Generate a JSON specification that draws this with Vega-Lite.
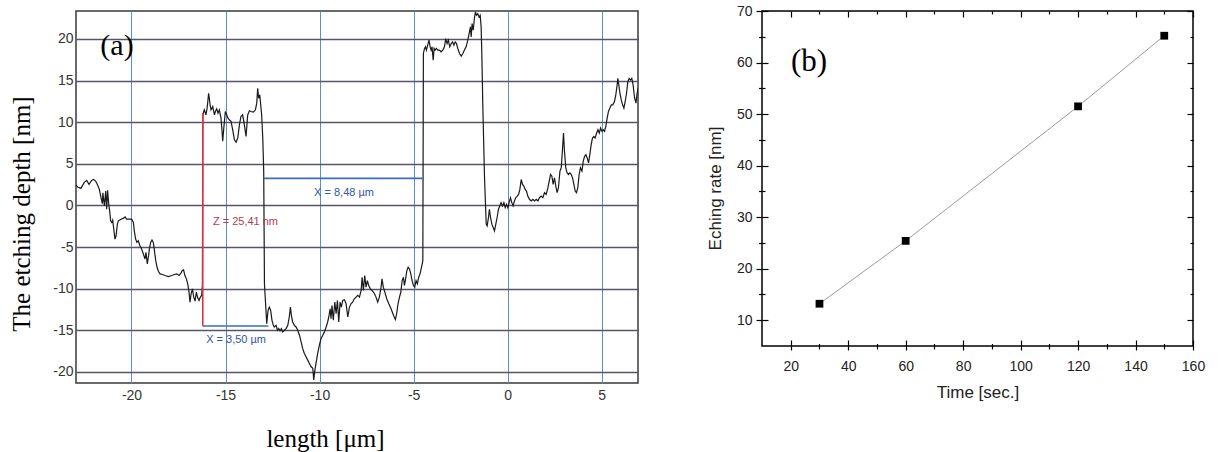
{
  "$schema": "https://vega.github.io/schema/vega-lite/v6.json",
  "background": "white",
  "padding": {"left": 8, "top": 3, "right": 5, "bottom": 2},
  "config": {
    "font": "Liberation Sans",
    "axis": {"labelFont": "Liberation Sans", "labelFlush": false, "labelOverlap": false}
  },
  "datasets": {
    "profile": [
      {"length": -22.95, "depth": 2.45}, {"length": -22.86, "depth": 2.21}, {"length": -22.69, "depth": 2.05},
      {"length": -22.51, "depth": 2.77}, {"length": -22.38, "depth": 3.01}, {"length": -22.26, "depth": 2.53},
      {"length": -22.12, "depth": 3.01}, {"length": -22.01, "depth": 3.13}, {"length": -21.91, "depth": 2.93},
      {"length": -21.80, "depth": 2.45}, {"length": -21.71, "depth": 1.93}, {"length": -21.62, "depth": 0.94},
      {"length": -21.55, "depth": 0.22}, {"length": -21.52, "depth": 1.53}, {"length": -21.44, "depth": -0.06},
      {"length": -21.37, "depth": 1.73}, {"length": -21.32, "depth": -0.46}, {"length": -21.27, "depth": 1.81},
      {"length": -21.21, "depth": 0.14}, {"length": -21.16, "depth": -0.66}, {"length": -21.11, "depth": -1.85},
      {"length": -21.05, "depth": -2.05}, {"length": -21.00, "depth": -1.77}, {"length": -20.93, "depth": -3.05},
      {"length": -20.88, "depth": -4.04}, {"length": -20.82, "depth": -3.64}, {"length": -20.75, "depth": -2.25},
      {"length": -20.70, "depth": -1.85}, {"length": -20.56, "depth": -1.65}, {"length": -20.42, "depth": -1.53},
      {"length": -20.34, "depth": -1.37}, {"length": -20.26, "depth": -1.65}, {"length": -20.13, "depth": -1.65},
      {"length": -19.99, "depth": -1.65}, {"length": -19.90, "depth": -2.05}, {"length": -19.85, "depth": -3.05},
      {"length": -19.78, "depth": -4.04}, {"length": -19.71, "depth": -4.44}, {"length": -19.64, "depth": -4.24},
      {"length": -19.55, "depth": -4.84}, {"length": -19.46, "depth": -5.24}, {"length": -19.37, "depth": -5.83},
      {"length": -19.28, "depth": -6.43}, {"length": -19.23, "depth": -5.63}, {"length": -19.16, "depth": -7.03},
      {"length": -19.09, "depth": -6.03}, {"length": -19.05, "depth": -5.24}, {"length": -18.98, "depth": -4.44},
      {"length": -18.91, "depth": -4.16}, {"length": -18.84, "depth": -4.44}, {"length": -18.79, "depth": -5.24},
      {"length": -18.71, "depth": -6.63}, {"length": -18.64, "depth": -7.43}, {"length": -18.57, "depth": -7.90},
      {"length": -18.48, "depth": -8.22}, {"length": -18.36, "depth": -8.30}, {"length": -18.22, "depth": -8.42},
      {"length": -18.04, "depth": -8.54}, {"length": -17.86, "depth": -8.42}, {"length": -17.72, "depth": -8.30},
      {"length": -17.60, "depth": -8.22}, {"length": -17.47, "depth": -8.42}, {"length": -17.37, "depth": -8.14},
      {"length": -17.30, "depth": -7.82}, {"length": -17.23, "depth": -7.74}, {"length": -17.16, "depth": -8.42},
      {"length": -17.08, "depth": -8.82}, {"length": -17.01, "depth": -9.42}, {"length": -16.94, "depth": -10.41},
      {"length": -16.89, "depth": -11.61}, {"length": -16.83, "depth": -10.61}, {"length": -16.76, "depth": -10.02},
      {"length": -16.69, "depth": -11.01}, {"length": -16.62, "depth": -11.49}, {"length": -16.55, "depth": -10.41},
      {"length": -16.48, "depth": -11.09}, {"length": -16.41, "depth": -11.41}, {"length": -16.34, "depth": -11.01},
      {"length": -16.27, "depth": -10.81}, {"length": -16.23, "depth": -9.60},
      {"length": -16.21, "depth": 10.69}, {"length": -16.18, "depth": 11.09}, {"length": -16.13, "depth": 11.49},
      {"length": -16.04, "depth": 10.89}, {"length": -15.98, "depth": 11.69}, {"length": -15.95, "depth": 12.29},
      {"length": -15.90, "depth": 13.48}, {"length": -15.86, "depth": 12.88}, {"length": -15.82, "depth": 12.09},
      {"length": -15.77, "depth": 11.49}, {"length": -15.68, "depth": 11.89}, {"length": -15.59, "depth": 10.89},
      {"length": -15.54, "depth": 11.29}, {"length": -15.47, "depth": 11.61}, {"length": -15.40, "depth": 11.09},
      {"length": -15.33, "depth": 11.49}, {"length": -15.24, "depth": 10.49}, {"length": -15.19, "depth": 9.10},
      {"length": -15.15, "depth": 7.71}, {"length": -15.10, "depth": 9.10}, {"length": -15.01, "depth": 11.29},
      {"length": -14.94, "depth": 10.89}, {"length": -14.87, "depth": 10.49}, {"length": -14.80, "depth": 10.29},
      {"length": -14.71, "depth": 10.10}, {"length": -14.62, "depth": 9.10}, {"length": -14.53, "depth": 7.91},
      {"length": -14.44, "depth": 7.59}, {"length": -14.35, "depth": 8.10}, {"length": -14.26, "depth": 9.70},
      {"length": -14.18, "depth": 10.69}, {"length": -14.09, "depth": 10.89}, {"length": -14.00, "depth": 9.70},
      {"length": -13.91, "depth": 8.30}, {"length": -13.82, "depth": 10.89}, {"length": -13.73, "depth": 11.37},
      {"length": -13.64, "depth": 11.29}, {"length": -13.52, "depth": 11.21}, {"length": -13.41, "depth": 11.49},
      {"length": -13.34, "depth": 12.29}, {"length": -13.29, "depth": 14.08}, {"length": -13.24, "depth": 12.88},
      {"length": -13.18, "depth": 13.28}, {"length": -13.13, "depth": 12.09}, {"length": -13.08, "depth": 10.89},
      {"length": -13.02, "depth": 8.10}, {"length": -12.97, "depth": 4.12},
      {"length": -12.93, "depth": -9.42}, {"length": -12.88, "depth": -11.41}, {"length": -12.81, "depth": -14.20},
      {"length": -12.74, "depth": -12.61}, {"length": -12.67, "depth": -12.21}, {"length": -12.60, "depth": -12.61},
      {"length": -12.53, "depth": -13.80}, {"length": -12.46, "depth": -14.40}, {"length": -12.41, "depth": -14.60},
      {"length": -12.31, "depth": -14.40}, {"length": -12.24, "depth": -14.99}, {"length": -12.17, "depth": -14.79},
      {"length": -12.10, "depth": -15.07}, {"length": -12.03, "depth": -14.79}, {"length": -11.96, "depth": -15.19},
      {"length": -11.87, "depth": -14.99}, {"length": -11.78, "depth": -14.79}, {"length": -11.69, "depth": -14.40},
      {"length": -11.61, "depth": -13.40}, {"length": -11.55, "depth": -12.21}, {"length": -11.50, "depth": -13.20},
      {"length": -11.43, "depth": -14.00}, {"length": -11.34, "depth": -14.40}, {"length": -11.25, "depth": -14.60},
      {"length": -11.16, "depth": -14.99}, {"length": -11.07, "depth": -15.59}, {"length": -10.98, "depth": -16.39},
      {"length": -10.90, "depth": -17.18}, {"length": -10.81, "depth": -17.78}, {"length": -10.72, "depth": -18.18},
      {"length": -10.63, "depth": -18.58}, {"length": -10.54, "depth": -18.98}, {"length": -10.45, "depth": -19.38},
      {"length": -10.36, "depth": -19.57}, {"length": -10.31, "depth": -20.97}, {"length": -10.26, "depth": -19.97},
      {"length": -10.19, "depth": -18.98}, {"length": -10.10, "depth": -17.78}, {"length": -10.01, "depth": -16.79},
      {"length": -9.92, "depth": -15.99}, {"length": -9.83, "depth": -15.59}, {"length": -9.74, "depth": -15.19},
      {"length": -9.65, "depth": -14.60}, {"length": -9.57, "depth": -14.00}, {"length": -9.51, "depth": -13.40},
      {"length": -9.44, "depth": -12.41}, {"length": -9.39, "depth": -13.60}, {"length": -9.34, "depth": -12.01},
      {"length": -9.27, "depth": -13.80}, {"length": -9.19, "depth": -11.61}, {"length": -9.12, "depth": -13.00},
      {"length": -9.05, "depth": -11.41}, {"length": -8.98, "depth": -14.00}, {"length": -8.91, "depth": -11.61},
      {"length": -8.84, "depth": -12.21}, {"length": -8.77, "depth": -11.41}, {"length": -8.68, "depth": -11.33},
      {"length": -8.59, "depth": -11.81}, {"length": -8.50, "depth": -13.40}, {"length": -8.41, "depth": -12.21},
      {"length": -8.33, "depth": -11.81}, {"length": -8.24, "depth": -11.61}, {"length": -8.15, "depth": -11.21},
      {"length": -8.06, "depth": -11.01}, {"length": -7.97, "depth": -10.81}, {"length": -7.88, "depth": -11.01},
      {"length": -7.79, "depth": -10.21}, {"length": -7.74, "depth": -8.62}, {"length": -7.67, "depth": -10.21},
      {"length": -7.60, "depth": -8.42}, {"length": -7.53, "depth": -9.82}, {"length": -7.46, "depth": -9.02},
      {"length": -7.39, "depth": -9.62}, {"length": -7.30, "depth": -10.02}, {"length": -7.21, "depth": -10.21},
      {"length": -7.08, "depth": -10.61}, {"length": -7.00, "depth": -11.01}, {"length": -6.91, "depth": -11.61},
      {"length": -6.82, "depth": -11.01}, {"length": -6.73, "depth": -9.82}, {"length": -6.68, "depth": -8.82},
      {"length": -6.61, "depth": -9.82}, {"length": -6.53, "depth": -10.41}, {"length": -6.43, "depth": -11.21},
      {"length": -6.32, "depth": -11.81}, {"length": -6.20, "depth": -12.41}, {"length": -6.07, "depth": -13.20},
      {"length": -5.97, "depth": -13.72}, {"length": -5.90, "depth": -13.00}, {"length": -5.83, "depth": -11.81},
      {"length": -5.75, "depth": -11.01}, {"length": -5.68, "depth": -10.41}, {"length": -5.61, "depth": -9.02},
      {"length": -5.54, "depth": -8.62}, {"length": -5.49, "depth": -9.62}, {"length": -5.44, "depth": -9.02},
      {"length": -5.36, "depth": -7.83}, {"length": -5.29, "depth": -7.43}, {"length": -5.22, "depth": -7.63},
      {"length": -5.15, "depth": -8.22}, {"length": -5.08, "depth": -9.02}, {"length": -5.01, "depth": -9.62},
      {"length": -4.94, "depth": -9.82}, {"length": -4.87, "depth": -9.02}, {"length": -4.80, "depth": -9.42},
      {"length": -4.73, "depth": -8.62}, {"length": -4.66, "depth": -8.22}, {"length": -4.58, "depth": -7.43},
      {"length": -4.51, "depth": -6.63},
      {"length": -4.48, "depth": 18.26}, {"length": -4.42, "depth": 18.86}, {"length": -4.37, "depth": 19.06},
      {"length": -4.32, "depth": 18.66}, {"length": -4.25, "depth": 19.25}, {"length": -4.18, "depth": 19.85},
      {"length": -4.12, "depth": 19.06}, {"length": -4.07, "depth": 18.66}, {"length": -4.02, "depth": 19.06},
      {"length": -3.96, "depth": 17.46}, {"length": -3.91, "depth": 18.86}, {"length": -3.86, "depth": 18.66},
      {"length": -3.79, "depth": 18.86}, {"length": -3.71, "depth": 18.66}, {"length": -3.63, "depth": 18.66},
      {"length": -3.54, "depth": 18.46}, {"length": -3.45, "depth": 18.66}, {"length": -3.36, "depth": 19.06},
      {"length": -3.29, "depth": 20.05}, {"length": -3.22, "depth": 19.45}, {"length": -3.15, "depth": 19.85},
      {"length": -3.08, "depth": 19.06}, {"length": -3.00, "depth": 19.45}, {"length": -2.93, "depth": 19.65},
      {"length": -2.86, "depth": 19.25}, {"length": -2.79, "depth": 19.65}, {"length": -2.72, "depth": 19.45},
      {"length": -2.65, "depth": 18.86}, {"length": -2.56, "depth": 18.26}, {"length": -2.47, "depth": 17.94},
      {"length": -2.38, "depth": 18.26}, {"length": -2.30, "depth": 18.66}, {"length": -2.21, "depth": 19.06},
      {"length": -2.12, "depth": 19.85}, {"length": -2.05, "depth": 20.65}, {"length": -1.98, "depth": 21.45},
      {"length": -1.94, "depth": 20.25}, {"length": -1.89, "depth": 21.84}, {"length": -1.83, "depth": 21.05},
      {"length": -1.76, "depth": 22.64}, {"length": -1.71, "depth": 23.24}, {"length": -1.66, "depth": 22.84},
      {"length": -1.59, "depth": 23.04}, {"length": -1.52, "depth": 22.64}, {"length": -1.46, "depth": 22.84},
      {"length": -1.41, "depth": 21.45}, {"length": -1.37, "depth": 17.86}, {"length": -1.32, "depth": 11.89},
      {"length": -1.23, "depth": 3.33}, {"length": -1.14, "depth": -2.25}, {"length": -1.09, "depth": -2.45},
      {"length": -1.02, "depth": -1.45}, {"length": -0.97, "depth": -0.46}, {"length": -0.91, "depth": -1.45},
      {"length": -0.84, "depth": -2.25}, {"length": -0.77, "depth": -2.65}, {"length": -0.70, "depth": -3.05},
      {"length": -0.63, "depth": -2.25}, {"length": -0.56, "depth": -1.45}, {"length": -0.49, "depth": -0.46},
      {"length": -0.42, "depth": -0.06}, {"length": -0.35, "depth": 0.34}, {"length": -0.27, "depth": -0.06},
      {"length": -0.20, "depth": 0.34}, {"length": -0.13, "depth": -0.26}, {"length": -0.06, "depth": 0.14},
      {"length": 0.01, "depth": -0.26}, {"length": 0.08, "depth": 0.34}, {"length": 0.15, "depth": 0.93},
      {"length": 0.22, "depth": 0.34}, {"length": 0.29, "depth": -0.06}, {"length": 0.36, "depth": 0.54},
      {"length": 0.43, "depth": 0.93}, {"length": 0.51, "depth": 1.13}, {"length": 0.58, "depth": 1.33},
      {"length": 0.65, "depth": 1.93}, {"length": 0.72, "depth": 3.12}, {"length": 0.79, "depth": 2.53},
      {"length": 0.86, "depth": 2.33}, {"length": 0.93, "depth": 1.93}, {"length": 1.00, "depth": 1.73},
      {"length": 1.07, "depth": 1.13}, {"length": 1.16, "depth": 0.74}, {"length": 1.25, "depth": 0.54},
      {"length": 1.34, "depth": 0.74}, {"length": 1.43, "depth": 0.54}, {"length": 1.52, "depth": 0.74},
      {"length": 1.61, "depth": 0.54}, {"length": 1.69, "depth": 0.93}, {"length": 1.78, "depth": 1.13},
      {"length": 1.87, "depth": 0.93}, {"length": 1.96, "depth": 1.53}, {"length": 2.05, "depth": 1.33},
      {"length": 2.14, "depth": 2.13}, {"length": 2.21, "depth": 2.93}, {"length": 2.28, "depth": 3.72},
      {"length": 2.35, "depth": 3.52}, {"length": 2.42, "depth": 2.53}, {"length": 2.49, "depth": 3.32},
      {"length": 2.56, "depth": 2.33}, {"length": 2.63, "depth": 1.53}, {"length": 2.70, "depth": 2.13},
      {"length": 2.78, "depth": 4.12}, {"length": 2.85, "depth": 4.52}, {"length": 2.92, "depth": 6.91},
      {"length": 2.97, "depth": 8.70}, {"length": 3.02, "depth": 6.51}, {"length": 3.09, "depth": 4.52},
      {"length": 3.16, "depth": 3.92}, {"length": 3.23, "depth": 3.72}, {"length": 3.31, "depth": 3.92},
      {"length": 3.38, "depth": 3.72}, {"length": 3.45, "depth": 3.32}, {"length": 3.52, "depth": 2.53},
      {"length": 3.59, "depth": 1.73}, {"length": 3.66, "depth": 1.53}, {"length": 3.73, "depth": 2.13},
      {"length": 3.80, "depth": 3.72}, {"length": 3.87, "depth": 4.52}, {"length": 3.95, "depth": 4.12},
      {"length": 4.02, "depth": 5.32}, {"length": 4.09, "depth": 5.91}, {"length": 4.16, "depth": 6.11},
      {"length": 4.23, "depth": 5.71}, {"length": 4.30, "depth": 5.12}, {"length": 4.37, "depth": 6.11},
      {"length": 4.44, "depth": 7.31}, {"length": 4.51, "depth": 8.10}, {"length": 4.58, "depth": 8.30},
      {"length": 4.65, "depth": 8.10}, {"length": 4.73, "depth": 8.70}, {"length": 4.80, "depth": 9.10},
      {"length": 4.87, "depth": 8.70}, {"length": 4.94, "depth": 9.30}, {"length": 5.01, "depth": 8.90},
      {"length": 5.08, "depth": 9.10}, {"length": 5.15, "depth": 8.90}, {"length": 5.22, "depth": 9.50},
      {"length": 5.29, "depth": 10.49}, {"length": 5.36, "depth": 11.29}, {"length": 5.43, "depth": 11.69},
      {"length": 5.51, "depth": 12.09}, {"length": 5.59, "depth": 12.09}, {"length": 5.68, "depth": 12.49},
      {"length": 5.75, "depth": 13.28}, {"length": 5.81, "depth": 14.28}, {"length": 5.86, "depth": 15.27},
      {"length": 5.91, "depth": 14.48}, {"length": 5.97, "depth": 13.48}, {"length": 6.04, "depth": 12.68},
      {"length": 6.11, "depth": 12.09}, {"length": 6.18, "depth": 11.69}, {"length": 6.25, "depth": 12.49},
      {"length": 6.32, "depth": 13.48}, {"length": 6.39, "depth": 14.87}, {"length": 6.46, "depth": 15.27},
      {"length": 6.53, "depth": 15.07}, {"length": 6.60, "depth": 15.27}, {"length": 6.67, "depth": 14.48},
      {"length": 6.75, "depth": 12.88}, {"length": 6.82, "depth": 12.29}, {"length": 6.87, "depth": 13.28},
      {"length": 6.93, "depth": 14.08}
    ],
    "measures": [
      {"group": "z", "x1": -16.21, "x2": -16.21, "y1": -14.48, "y2": 11.09},
      {"group": "x", "x1": -16.21, "x2": -12.72, "y1": -14.48, "y2": -14.48},
      {"group": "x", "x1": -12.97, "x2": -4.51, "y1": 3.25, "y2": 3.25}
    ],
    "notes": [
      {"group": "z", "label": "Z = 25,41 nm", "length": -13.94, "depth": -1.97},
      {"group": "x", "label": "X = 3,50 µm", "length": -14.44, "depth": -16.2},
      {"group": "x", "label": "X = 8,48 µm", "length": -8.70, "depth": 1.53}
    ],
    "etch": [
      {"time": 30, "rate": 13.2},
      {"time": 60, "rate": 25.4},
      {"time": 120, "rate": 51.5},
      {"time": 150, "rate": 65.2}
    ]
  },
  "spacing": 66,
  "hconcat": [
    {
      "width": 562,
      "height": 372,
      "view": {"stroke": "#3a3a3a", "strokeWidth": 1.5},
      "layer": [
        {
          "data": {"name": "profile"},
          "mark": {"type": "line", "color": "#1a1a1a", "strokeWidth": 1.2, "clip": true},
          "encoding": {
            "x": {
              "field": "length", "type": "quantitative",
              "scale": {"domain": [-22.95, 6.93], "nice": false, "zero": false},
              "axis": {
                "values": [-20, -15, -10, -5, 0, 5],
                "grid": true, "gridColor": "#5b8fcc", "gridWidth": 1,
                "ticks": false, "domain": false,
                "labelExpr": "replace(datum.label, '\u2212', '-')",
                "labelFontSize": 14, "labelColor": "#333", "labelPadding": 5,
                "title": "length [μm]", "titleFont": "Liberation Serif", "titleFontSize": 25,
                "titleFontWeight": "normal", "titleColor": "#000",
                "titleX": 249, "titleY": 63.5, "titleBaseline": "alphabetic"
              }
            },
            "y": {
              "field": "depth", "type": "quantitative",
              "scale": {"domain": [-21.33, 23.36], "nice": false, "zero": false},
              "axis": {
                "values": [-20, -15, -10, -5, 0, 5, 10, 15, 20],
                "grid": true, "gridColor": "#55556a", "gridWidth": 1.3,
                "ticks": false, "domain": false,
                "labelExpr": "replace(datum.label, '\u2212', '-')",
                "labelFontSize": 14, "labelColor": "#333", "labelPadding": 3,
                "title": "The etching depth [nm]", "titleFont": "Liberation Serif", "titleFontSize": 25,
                "titleFontWeight": "normal", "titleColor": "#000",
                "titleX": -47, "titleY": 202.5, "titleBaseline": "alphabetic"
              }
            }
          }
        },
        {
          "data": {"name": "measures"},
          "mark": {"type": "rule", "strokeWidth": 1.6},
          "encoding": {
            "x": {"field": "x1", "type": "quantitative", "title": "length [μm]"},
            "x2": {"field": "x2"},
            "y": {"field": "y1", "type": "quantitative", "title": "The etching depth [nm]"},
            "y2": {"field": "y2"},
            "color": {"field": "group", "type": "nominal", "scale": {"domain": ["z", "x"], "range": ["#e0303f", "#3a6cc0"]}, "legend": null}
          }
        },
        {
          "data": {"name": "notes"},
          "mark": {"type": "text", "fontSize": 11, "font": "Liberation Sans", "align": "center", "baseline": "middle"},
          "encoding": {
            "x": {"field": "length", "type": "quantitative", "title": "length [μm]"},
            "y": {"field": "depth", "type": "quantitative", "title": "The etching depth [nm]"},
            "text": {"field": "label"},
            "color": {"field": "group", "type": "nominal", "scale": {"domain": ["z", "x"], "range": ["#b0404c", "#34549e"]}, "legend": null}
          }
        },
        {
          "data": {"values": [{"panel": "(a)"}]},
          "mark": {"type": "text", "font": "Liberation Serif", "fontSize": 30, "align": "center", "baseline": "middle", "color": "#000"},
          "encoding": {
            "x": {"datum": -20.77, "type": "quantitative", "title": "length [μm]"},
            "y": {"datum": 19.1, "type": "quantitative", "title": "The etching depth [nm]"},
            "text": {"field": "panel"}
          }
        }
      ],
      "resolve": {"scale": {"color": "independent"}}
    },
    {
      "width": 431,
      "height": 335,
      "view": {"stroke": "#000", "strokeWidth": 1.5},
      "resolve": {"axis": {"x": "independent", "y": "independent"}},
      "layer": [
        {
          "data": {"name": "etch"},
          "mark": {"type": "line", "color": "#9a9a9a", "strokeWidth": 1},
          "encoding": {
            "x": {
              "field": "time", "type": "quantitative",
              "scale": {"domain": [10, 160], "nice": false, "zero": false},
              "axis": {
                "orient": "bottom",
                "values": [20, 30, 40, 50, 60, 70, 80, 90, 100, 110, 120, 130, 140, 150, 160],
                "tickSize": {"condition": {"test": "datum.value % 20 === 0", "value": 4}, "value": 3},
                "tickColor": "#000", "tickWidth": 1.2, "domain": false, "grid": false,
                "labelExpr": "datum.value % 20 === 0 ? datum.label : ''",
                "labelFontSize": 14, "labelColor": "#222", "labelPadding": 9,
                "title": "Time [sec.]", "titleFontSize": 17, "titleFontWeight": "normal", "titleColor": "#222",
                "titleY": 51, "titleBaseline": "alphabetic"
              }
            },
            "y": {
              "field": "rate", "type": "quantitative",
              "scale": {"domain": [5, 70], "nice": false, "zero": false},
              "axis": {
                "orient": "left",
                "values": [10, 15, 20, 25, 30, 35, 40, 45, 50, 55, 60, 65, 70],
                "tickSize": {"condition": {"test": "datum.value % 10 === 0", "value": 6}, "value": 3.5},
                "tickColor": "#000", "tickWidth": 1.2, "domain": false, "grid": false,
                "labelExpr": "datum.value % 10 === 0 ? datum.label : ''",
                "labelFontSize": 14, "labelColor": "#222", "labelPadding": 4,
                "title": "Eching rate [nm]", "titleFontSize": 17, "titleFontWeight": "normal", "titleColor": "#222",
                "titleX": -41.5, "titleY": 177, "titleBaseline": "alphabetic"
              }
            }
          }
        },
        {
          "data": {"name": "etch"},
          "mark": {"type": "point", "shape": "square", "filled": true, "size": 60, "color": "#000", "opacity": 1},
          "encoding": {
            "x": {
              "field": "time", "type": "quantitative",
              "axis": {
                "orient": "bottom",
                "values": [20, 30, 40, 50, 60, 70, 80, 90, 100, 110, 120, 130, 140, 150, 160],
                "tickSize": {"condition": {"test": "datum.value % 20 === 0", "value": -6}, "value": -2.5},
                "tickColor": "#000", "tickWidth": 1.2, "domain": false, "grid": false,
                "labels": false, "title": null
              }
            },
            "y": {
              "field": "rate", "type": "quantitative",
              "axis": {
                "orient": "left",
                "values": [10, 15, 20, 25, 30, 35, 40, 45, 50, 55, 60, 65, 70],
                "tickSize": {"condition": {"test": "datum.value % 10 === 0", "value": -6}, "value": -3},
                "tickColor": "#000", "tickWidth": 1.2, "domain": false, "grid": false,
                "labels": false, "title": null
              }
            }
          }
        },
        {
          "data": {"values": [{"panel": "(b)"}]},
          "mark": {"type": "text", "font": "Liberation Serif", "fontSize": 31, "align": "center", "baseline": "middle", "color": "#000"},
          "encoding": {
            "x": {
              "datum": 26.4, "type": "quantitative",
              "axis": {
                "orient": "top",
                "values": [20, 30, 40, 50, 60, 70, 80, 90, 100, 110, 120, 130, 140, 150, 160],
                "tickSize": {"condition": {"test": "datum.value % 20 === 0", "value": -6}, "value": -3},
                "tickColor": "#000", "tickWidth": 1.2, "domain": false, "grid": false,
                "labels": false, "title": null
              }
            },
            "y": {
              "datum": 60.1, "type": "quantitative",
              "axis": {
                "orient": "right",
                "values": [10, 15, 20, 25, 30, 35, 40, 45, 50, 55, 60, 65, 70],
                "tickSize": {"condition": {"test": "datum.value % 10 === 0", "value": -6}, "value": -3},
                "tickColor": "#000", "tickWidth": 1.2, "domain": false, "grid": false,
                "labels": false, "title": null
              }
            },
            "text": {"field": "panel"}
          }
        }
      ]
    }
  ]
}
